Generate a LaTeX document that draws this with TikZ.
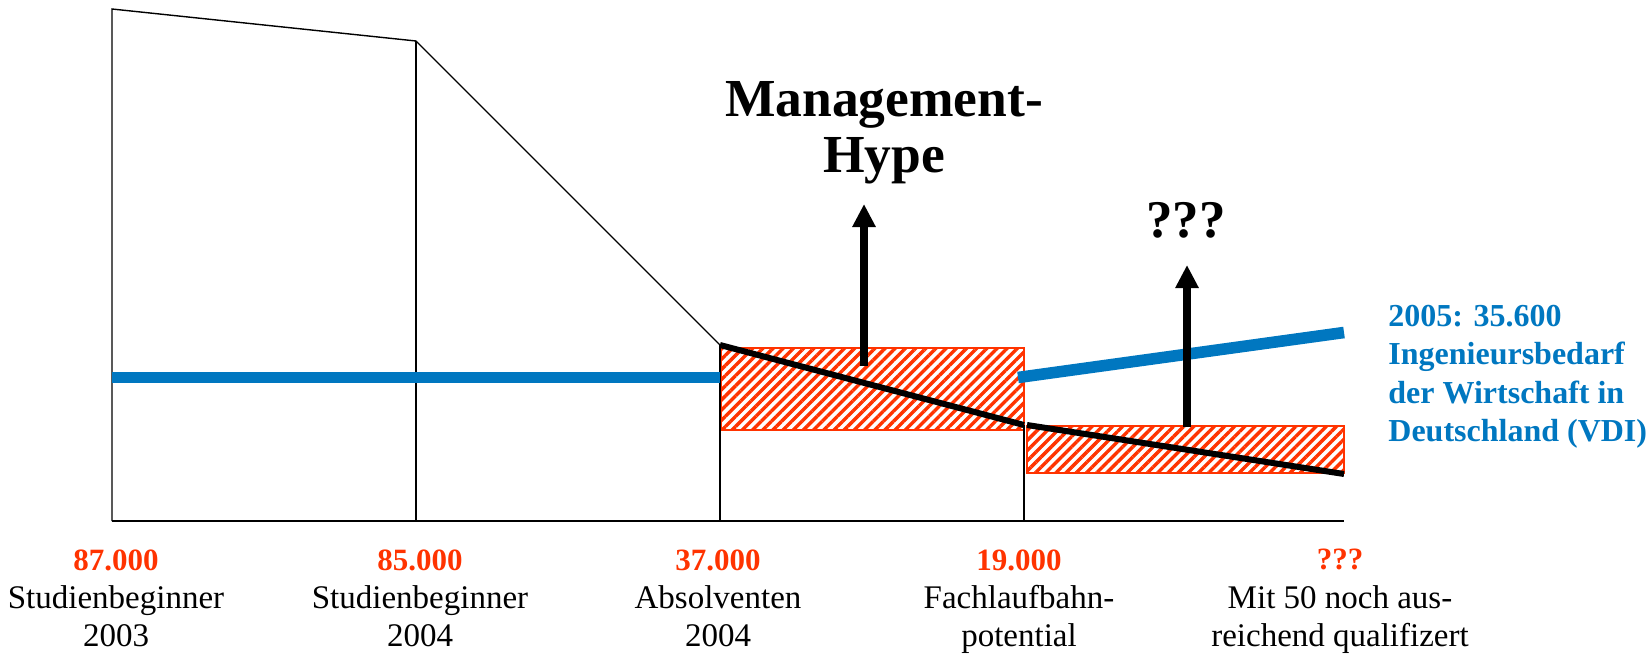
\documentclass[tikz,border=0pt]{standalone}
\usepackage{fontspec}
\setmainfont{Liberation Serif}
\usetikzlibrary{arrows.meta,patterns.meta}
\definecolor{hatchred}{RGB}{255,51,0}
\definecolor{vdiblue}{RGB}{0,119,192}
\newcommand{\rednum}[1]{{\fontsize{15.5}{19.2}\selectfont\bfseries\color{hatchred}#1}}
\tikzset{
  thinline/.style={line width=0.7pt, black},
  hatchbox/.style={draw=hatchred, line width=0.6pt, pattern={Lines[angle=45,distance=3.6pt,line width=1.7pt]}, pattern color=hatchred},
  trend/.style={line width=3pt, black},
  demand/.style={line width=5.8pt, vdiblue},
  hypearrow/.style={line width=4pt, -{Triangle[width=11pt,length=11.5pt]}},
  lbl/.style={anchor=north, inner sep=0pt, align=center, font=\fontsize{16.5}{19.2}\selectfont}
}
\begin{document}
\begin{tikzpicture}[x=0.5pt, y=-0.5pt]
\useasboundingbox (0,0) rectangle (1652,653);
% points of the funnel
\coordinate (base) at (112,521);
\coordinate (s03) at (112,9);
\coordinate (s04) at (416,41);
\coordinate (abs) at (720,345);
\coordinate (fach) at (1024,425);
\coordinate (fach2) at (1027,425);
\coordinate (rest) at (1344,474);
\coordinate (axend) at (1344,521);
% hatched ranges
\draw[hatchbox] (721,348) rectangle (1024,430);
\draw[hatchbox] (1027,426) rectangle (1344,473);
% outline
\draw[thinline] (base) -- (axend);
\draw[thinline] (base) -- (s03) -- (s04) -- (abs);
\draw[thinline] (s04) -- (s04 |- base);
\draw[thinline] (abs) -- (abs |- base);
\draw[thinline] (fach) -- (fach |- base);
% decline
\draw[trend] (abs) -- (fach);
\draw[trend] (fach2) -- (rest);
% demand
\coordinate (d0) at (112,377.5);
\coordinate (d1) at (720,377.5);
\coordinate (d2) at (1018,377.5);
\coordinate (d3) at (1344,332.5);
\draw[demand] (d0) -- (d1);
\draw[demand] (d2) -- (d3);
% arrows
\coordinate (a1) at (864,366);
\coordinate (a1t) at (864,204);
\coordinate (a2) at (1187,427);
\coordinate (a2t) at (1187,265);
\draw[hypearrow] (a1) -- (a1t);
\draw[hypearrow] (a2) -- (a2t);
\node[anchor=north, inner sep=0pt, align=center, font=\fontsize{26.75}{28}\selectfont\bfseries] (hype) at (884,80.6) {Management-\\Hype};
\node[anchor=base, inner sep=0pt, font=\fontsize{26.5}{28}\selectfont\bfseries] (qq) at (1186,237) {???};
\node[anchor=north west, inner sep=0pt, align=left, text=vdiblue, font=\fontsize{16}{19.15}\selectfont\bfseries] (vdi) at (1388,305) {2005: 35.600\\Ingenieursbedarf\\der Wirtschaft in\\Deutschland (VDI)};
% labels under the axis
\node[lbl] (l03) at (116,549) {\rednum{87.000}\\Studienbeginner\\2003};
\node[lbl] (l04) at (420,549) {\rednum{85.000}\\Studienbeginner\\2004};
\node[lbl] (labs) at (718,549) {\rednum{37.000}\\Absolventen\\2004};
\node[lbl] (lfach) at (1019,549) {\rednum{19.000}\\Fachlaufbahn-\\potential};
\node[lbl] (l50) at (1340,549) {\rednum{???}\\Mit 50 noch aus-\\reichend qualifizert};
\end{tikzpicture}
\end{document}
